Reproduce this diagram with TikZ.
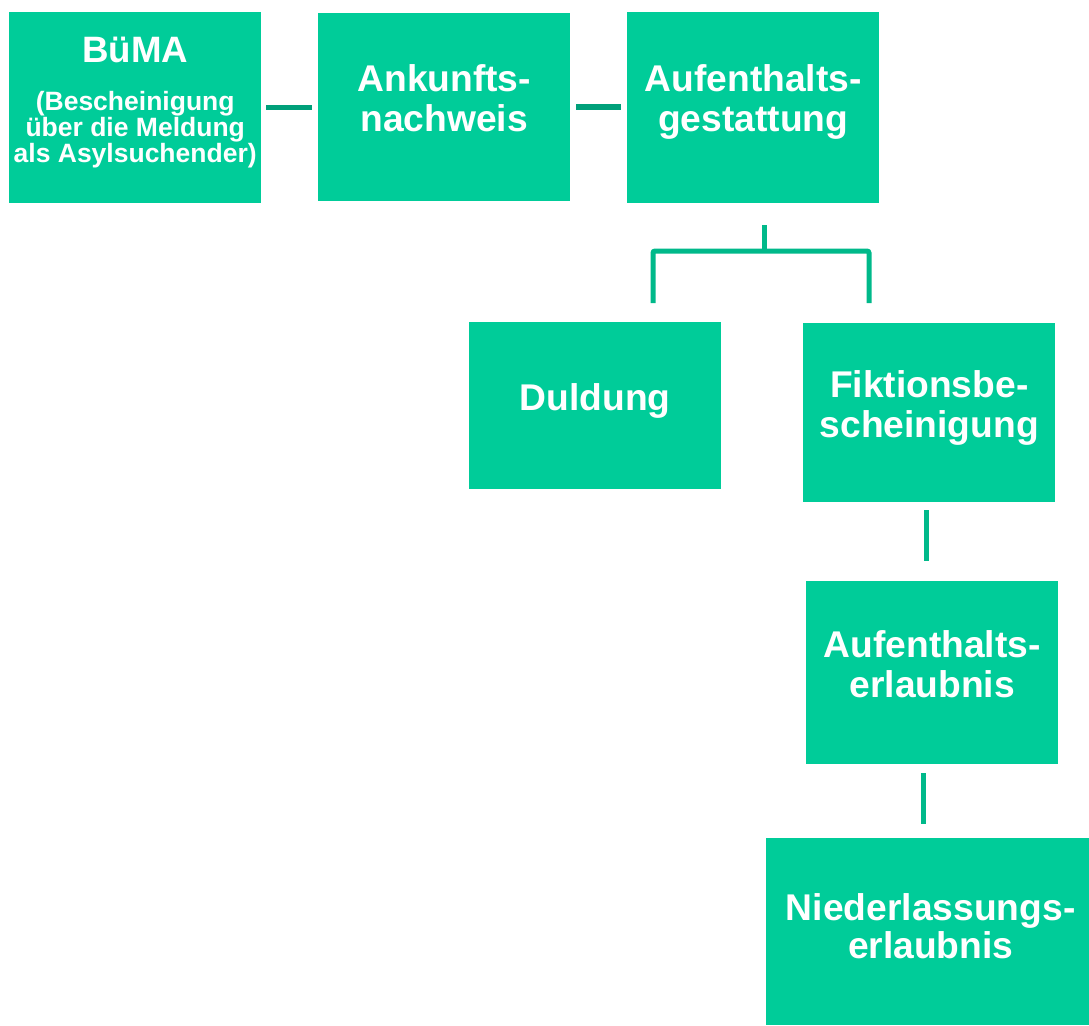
\documentclass[tikz,border=0pt]{standalone}
\usepackage{fontspec}
\setmainfont{Liberation Sans}
\definecolor{boxgreen}{HTML}{00CC99}
\definecolor{linegreen}{HTML}{00B98A}
\definecolor{darkline}{HTML}{00A07A}
\begin{document}
\begin{tikzpicture}[x=1pt,y=-1pt,
  box/.style={draw=none, fill=boxgreen, text=white, align=center, anchor=north west, inner sep=0pt,
    minimum width=252pt, font=\bfseries\fontsize{37.2}{40}\selectfont},
  conn/.style={draw=linegreen, line width=5pt},
  hconn/.style={draw=darkline, line width=5.5pt}]
\useasboundingbox (0,0) rectangle (1089,1025);

\node[box, minimum height=191pt, text depth=15.4pt,
  font={\bfseries\fontsize{26.5}{26}\selectfont\lineskiplimit=-20pt}] (buma) at (9,12)
  {{\fontsize{36.7}{40}\selectfont BüMA}\\[22pt](Bescheinigung\\über die Meldung\\als Asylsuchender)};
\node[box, minimum height=188pt, text depth=18.8pt] (ank) at (318,13) {Ankunfts-\\nachweis};
\node[box, minimum height=191pt, text depth=19.8pt] (aufg) at (627,12) {Aufenthalts-\\gestattung};
\node[box, minimum height=167pt, text depth=16.8pt] (duld) at (469,322) {Duldung};
\node[box, minimum height=179pt, text depth=17.8pt] (fikt) at (803,323) {Fiktionsbe-\\scheinigung};
\node[box, minimum height=183pt, text depth=17.8pt] (aufe) at (806,581) {Aufenthalts-\\erlaubnis};
\node[box, minimum width=323pt, minimum height=187pt, text depth=11.8pt,
  font=\bfseries\fontsize{37.2}{38}\selectfont] (nied) at (766,838) {\kern6pt Niederlassungs-\\\kern6pt erlaubnis};

\coordinate (brmid) at (764,251);
\coordinate (legL) at (653,0);
\coordinate (legR) at (869,0);
\coordinate (fa) at (926.5,0);
\coordinate (an) at (923,0);

\draw[hconn, shorten <=5pt, shorten >=6pt] (buma.east) -- (buma.east -| ank.west);
\draw[hconn, shorten <=6pt, shorten >=6pt] (ank.east) -- (ank.east -| aufg.west);
\draw[conn, shorten <=22pt] (aufg.south -| brmid) -- (brmid);
\draw[conn, rounded corners=2pt, shorten <=19pt, shorten >=20pt]
  (duld.north -| legL) |- (brmid) -| (fikt.north -| legR);
\draw[conn, shorten <=8pt, shorten >=20pt] (fikt.south -| fa) -- (aufe.north -| fa);
\draw[conn, shorten <=9pt, shorten >=14pt] (aufe.south -| an) -- (nied.north -| an);
\end{tikzpicture}
\end{document}
